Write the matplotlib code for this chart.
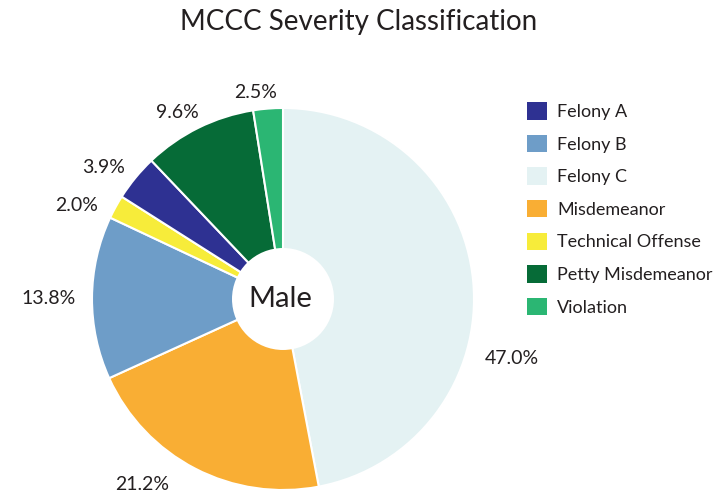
import matplotlib
matplotlib.use("Agg")
from matplotlib import pyplot as plt
from matplotlib.patches import Patch, Circle

plt.rcParams['font.family'] = ['Lato', 'DejaVu Sans']

# slices clockwise from 12 o'clock
slice_names = ["Felony C", "Misdemeanor", "Felony B", "Technical Offense",
               "Felony A", "Petty Misdemeanor", "Violation"]
slice_values = [47.0, 21.2, 13.8, 2.0, 3.9, 9.6, 2.5]

legend_names = ["Felony A", "Felony B", "Felony C", "Misdemeanor",
                "Technical Offense", "Petty Misdemeanor", "Violation"]

colors = {
    "Felony A": "#2e3192",
    "Felony B": "#6e9dc8",
    "Felony C": "#e4f2f3",
    "Misdemeanor": "#f9ae34",
    "Technical Offense": "#f7ec3a",
    "Petty Misdemeanor": "#066b37",
    "Violation": "#2bb673",
}

# where the percentage labels sit (pie radius = 1)
label_pos = [(1.199, -0.314), (-0.738, -0.969), (-1.225, 0.005),
             (-1.079, 0.492), (-0.937, 0.691), (-0.555, 0.974),
             (-0.141, 1.079)]

txt = "#231f20"

fig = plt.figure(figsize=(7.28, 4.97), dpi=100)
ax = fig.add_axes([0, 0, 1, 1])

wedges, _ = ax.pie(slice_values, colors=[colors[n] for n in slice_names],
                   startangle=90, counterclock=False, radius=1,
                   wedgeprops=dict(edgecolor="white", linewidth=1.5))

# pie() resets limits, so set them afterwards
R = 191.0
cx, cy = 283.0, 299.0
ax.set_xlim(-cx / R, (728 - cx) / R)
ax.set_ylim((cy - 497) / R, cy / R)
ax.set_aspect("equal")
ax.axis("off")

ax.add_patch(Circle((0, 0), 0.267, facecolor="white", edgecolor="none", zorder=5))
ax.text(-0.015, 0, "Male", ha="center", va="center", fontsize=21, color=txt, zorder=6)

for v, (x, y) in zip(slice_values, label_pos):
    ax.text(x, y, "%.1f%%" % v, ha="center", va="center", fontsize=14, color=txt)

fig.text(359 / 728, 1 - 22 / 497, "MCCC Severity Classification",
         ha="center", va="center", fontsize=20, color=txt)

handles = [Patch(facecolor=colors[n], edgecolor="none") for n in legend_names]
fig.legend(handles, legend_names, loc="upper left",
           bbox_to_anchor=(520 / 728, 1 - 95 / 497), frameon=False,
           fontsize=13, handlelength=1.1, handleheight=1.1,
           handletextpad=0.55, labelspacing=0.82, borderaxespad=0,
           labelcolor=txt)

fig.savefig("out.png", dpi=100)
